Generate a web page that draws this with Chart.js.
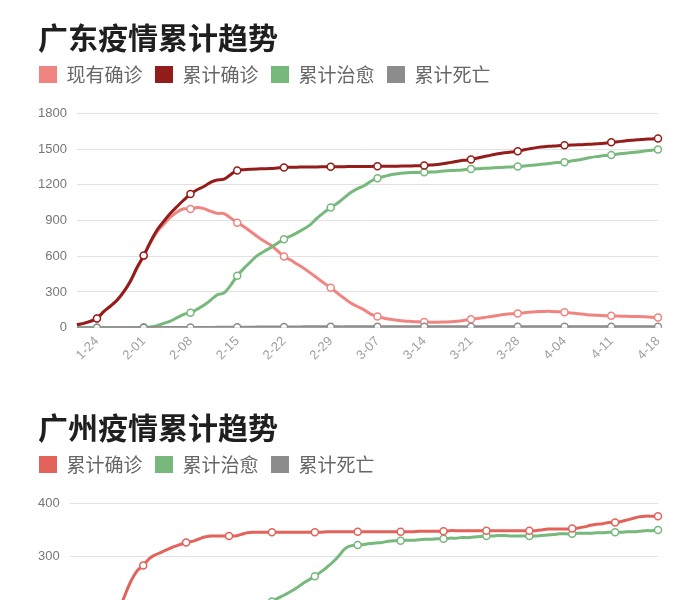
<!DOCTYPE html>
<html>
<head>
<meta charset="utf-8">
<script src="https://cdn.jsdelivr.net/npm/chart.js@4.4.1/dist/chart.umd.min.js"></script>
<style>
html,body{margin:0;padding:0;background:#fff;overflow:hidden;width:700px;height:600px}
.box{position:absolute;left:0;width:700px;height:390px}
#b1{top:0}
#b2{top:390px}
</style>
</head>
<body>
<div class="box" id="b1"><canvas id="c1"></canvas></div>
<div class="box" id="b2"><canvas id="c2"></canvas></div>
<script>
// ---------- 广东 ----------
const gdDates = [
'1-21','1-22','1-23','1-24','1-25','1-26','1-27','1-28','1-29','1-30',
'2-01','2-02','2-03','2-04','2-05','2-06','2-07','2-08','2-09','2-10',
'2-11','2-12','2-13','2-14','2-15','2-16','2-17','2-18','2-19','2-20',
'2-21','2-22','2-23','2-24','2-25','2-26','2-27','2-28','2-29','3-01',
'3-02','3-03','3-04','3-05','3-06','3-07','3-08','3-09','3-10','3-11',
'3-12','3-13','3-14','3-15','3-16','3-17','3-18','3-19','3-20','3-21',
'3-22','3-23','3-24','3-25','3-26','3-27','3-28','3-29','3-30','3-31',
'4-01','4-02','4-03','4-04','4-05','4-06','4-07','4-08','4-09','4-10',
'4-11','4-12','4-13','4-14','4-15','4-16','4-17','4-18'];
const gdTicks = ['1-24','2-01','2-08','2-15','2-22','2-29','3-07','3-14','3-21','3-28','4-04','4-11','4-18'];
const gdCurrent = [
26,36,53,78,135,180,230,300,389,503,
602,712,805,868,928,972,998,996,1010,1000,
978,960,958,922,882,848,808,766,728,694,
648,598,568,532,498,458,416,374,335,290,
248,207,178,150,114,95,80,71,63,57,
53,50,48,46,46,48,50,55,62,70,
78,86,94,103,111,117,119,126,132,135,
137,137,134,130,124,118,112,106,104,101,
100,98,96,94,93,91,88,85];
const gdConfirmed = [
26,36,53,78,135,180,230,300,390,505,
606,720,820,893,960,1018,1072,1122,1158,1185,
1220,1240,1247,1285,1320,1326,1330,1333,1334,1337,
1341,1345,1347,1348,1349,1349,1350,1351,1352,1352,
1352,1353,1353,1354,1354,1355,1355,1356,1356,1357,
1358,1360,1362,1366,1371,1378,1388,1398,1406,1413,
1425,1437,1449,1460,1468,1475,1481,1494,1505,1514,
1520,1524,1528,1531,1533,1535,1538,1541,1544,1549,
1556,1562,1568,1573,1577,1582,1585,1588];
const gdCured = [
0,0,0,0,0,0,0,0,1,2,
4,6,17,36,56,84,112,126,155,188,
230,276,292,355,436,498,553,605,640,672,
708,742,770,798,830,868,922,968,1010,1045,
1090,1135,1168,1192,1230,1255,1270,1284,1292,1298,
1302,1304,1305,1307,1310,1315,1319,1322,1326,1333,
1335,1338,1341,1344,1347,1350,1353,1358,1363,1369,
1375,1381,1386,1390,1400,1408,1419,1430,1438,1445,
1449,1459,1465,1470,1476,1484,1490,1496];
const gdDeaths = [
0,0,0,0,0,0,0,0,0,0,
0,0,1,1,1,1,1,2,2,2,
2,3,3,3,4,4,4,5,5,5,
6,6,6,6,7,7,7,7,7,7,
7,8,8,8,8,8,8,8,8,8,
8,8,8,8,8,8,8,8,8,8,
8,8,8,8,8,8,8,8,8,8,
8,8,8,8,8,8,8,8,8,8,
8,8,8,8,8,8,8,8];

// ---------- 广州 ----------
const gzDates = ['1-12','1-13','1-14','1-15','1-16','1-17','1-18','1-19','1-20'].concat(gdDates);
const gzTicks = ['1-24','2-01','2-08','2-15','2-22','2-29','3-07','3-14','3-21','3-28','4-04','4-11','4-18'];
const gzConfirmed = [
4,12,27,48,75,105,138,170,200,228,
255,274,284,297,304,309,314,319,323,327,
329,333,337,339,339,339,339,339,342,345,
346,346,346,346,346,346,346,346,346,346,
346,346,347,347,347,347,347,347,347,347,
347,347,347,347,347,347,347,348,348,348,
348,348,349,349,349,349,349,349,349,349,
349,349,349,349,349,349,349,350,352,352,
352,352,353,354,356,359,361,362,364,364,
366,369,372,375,376,376,376];
const gzCured = [
0,0,0,0,0,0,0,0,0,0,
0,0,0,1,3,6,12,20,30,42,
55,70,86,102,118,133,147,160,172,183,
193,202,210,217,223,229,235,242,250,257,
264,272,281,291,303,316,321,322,323,325,
326,327,329,330,330,331,331,332,333,333,
334,334,335,335,336,336,337,338,339,339,
340,340,339,339,339,339,339,340,341,342,
343,343,343,344,344,344,345,345,346,346,
346,347,347,348,349,349,350];
const gzDeaths = [
0,0,0,0,0,0,0,0,0,0,
0,0,0,0,0,0,0,0,0,0,
0,0,0,0,0,0,0,0,0,0,
1,1,1,1,1,1,1,1,1,1,
1,1,1,1,1,1,1,1,1,1,
1,1,1,1,1,1,1,1,1,1,
1,1,1,1,1,1,1,1,1,1,
1,1,1,1,1,1,1,1,1,1,
1,1,1,1,1,1,1,1,1,1,
1,1,1,1,1,1,1];

const CJK = "'Noto Sans CJK SC', 'Noto Sans', sans-serif";
const LAT = "'Liberation Sans', Arial, Helvetica, sans-serif";

const legendShift = {
  id: 'legendShift',
  afterLayout(chart) {
    const lg = chart.legend;
    if (lg) {
      const p = lg.options.labels.padding;
      lg.left -= (p - 1);
      lg.right -= (p - 1);
    }
  }
};

function series(label, data, color, order, labels, ticks) {
  return {
    label: label, data: data, order: order,
    borderColor: color, backgroundColor: color, borderWidth: 3,
    tension: 0.4, fill: false,
    pointRadius: c => ticks.includes(labels[c.dataIndex]) ? 3.5 : 0,
    pointHoverRadius: 0,
    pointBackgroundColor: '#ffffff', pointBorderColor: color, pointBorderWidth: 1.5
  };
}

function makeChart(id, title, labels, ticks, datasets, yMax, yStep) {
  return new Chart(document.getElementById(id), {
    type: 'line',
    data: { labels: labels, datasets: datasets },
    plugins: [legendShift],
    options: {
      responsive: true, maintainAspectRatio: false, animation: false,
      layout: { padding: { left: 38, right: 42, top: 0, bottom: 0 } },
      plugins: {
        title: {
          display: true, text: title, align: 'start', color: '#1f1f1f',
          font: { family: CJK, size: 30, weight: 'bold', lineHeight: 0.9 },
          padding: { top: 24, bottom: 1.5 }
        },
        legend: {
          display: true, align: 'start', position: 'top',
          labels: {
            boxWidth: 18, boxHeight: 17, padding: 12.5, color: '#666666',
            font: { family: CJK, size: 19 },
            sort: (a, b) => a.datasetIndex - b.datasetIndex,
            generateLabels: chart => Chart.defaults.plugins.legend.labels.generateLabels(chart)
              .map(l => Object.assign(l, { lineWidth: 0, strokeStyle: 'rgba(0,0,0,0)' }))
          }
        },
        subtitle: {
          display: true, text: ' ', weight: 500, padding: 0,
          font: { size: 10, lineHeight: '19.3px' }
        },
        tooltip: { enabled: false }
      },
      scales: {
        x: {
          grid: { display: false, drawTicks: false },
          border: { display: false },
          ticks: {
            autoSkip: false, maxRotation: 45, minRotation: 45, padding: 6,
            color: '#a0a0a0', font: { family: LAT, size: 13 },
            callback: function (v) {
              const l = this.getLabelForValue(v);
              return ticks.includes(l) ? l : '';
            }
          },
          afterFit: s => { s.height = 62.3; }
        },
        y: {
          min: 0, max: yMax,
          ticks: {
            stepSize: yStep, padding: 10, color: '#777777', font: { family: LAT, size: 13 },
            callback: v => String(v)
          },
          grid: { color: '#e2e2e2', lineWidth: 1, drawTicks: false },
          border: { display: false },
          afterFit: s => { s.width -= s.options.ticks.padding; }
        }
      }
    }
  });
}

makeChart('c1', '广东疫情累计趋势', gdDates, gdTicks, [
  series('现有确诊', gdCurrent, '#ef8480', 3, gdDates, gdTicks),
  series('累计确诊', gdConfirmed, '#931d1b', 1, gdDates, gdTicks),
  series('累计治愈', gdCured, '#77b87c', 2, gdDates, gdTicks),
  series('累计死亡', gdDeaths, '#8c8c8c', 0, gdDates, gdTicks)
], 1800, 300);

makeChart('c2', '广州疫情累计趋势', gzDates, gzTicks, [
  series('累计确诊', gzConfirmed, '#e3625a', 1, gzDates, gzTicks),
  series('累计治愈', gzCured, '#77b87c', 2, gzDates, gzTicks),
  series('累计死亡', gzDeaths, '#8c8c8c', 0, gzDates, gzTicks)
], 400, 100);
</script>
</body>
</html>
